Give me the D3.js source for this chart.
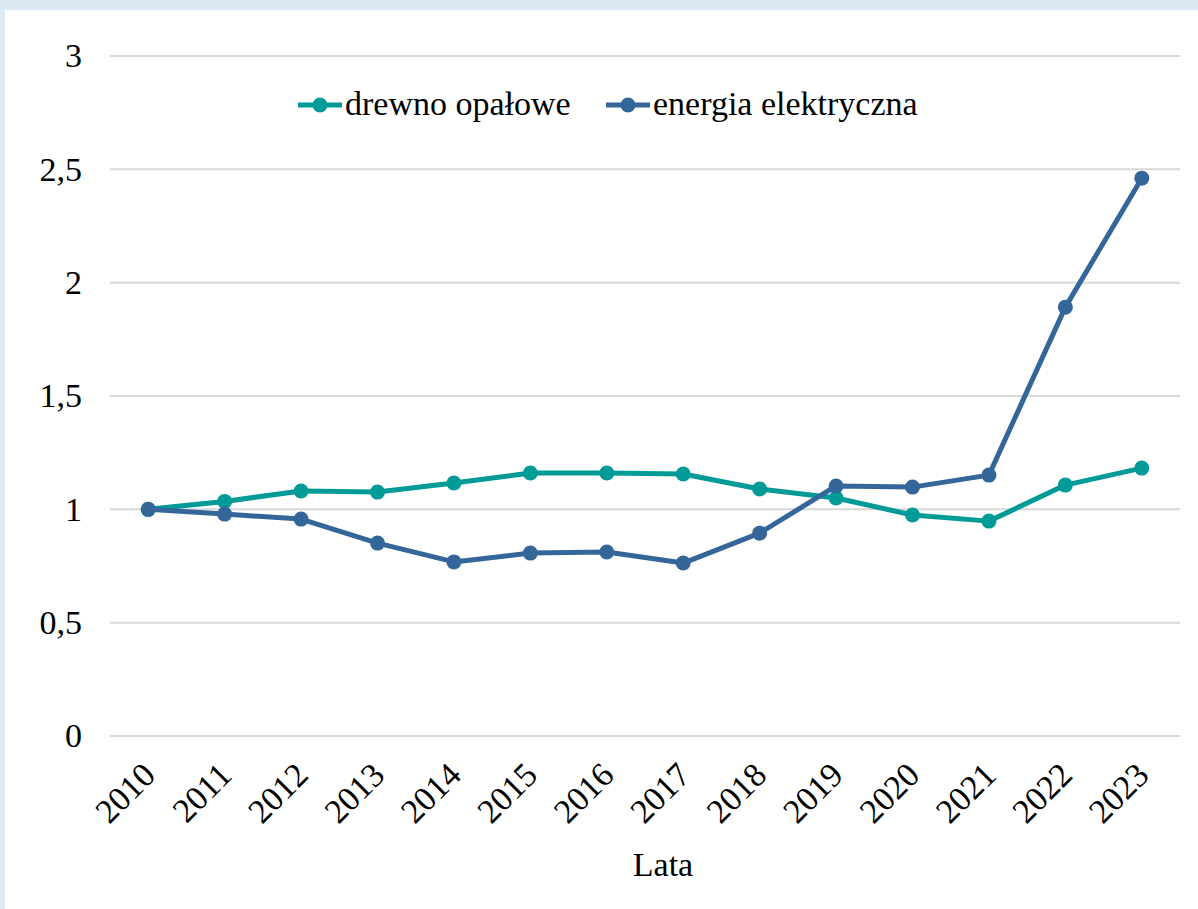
<!DOCTYPE html>
<html>
<head>
<meta charset="utf-8">
<script src="https://cdn.jsdelivr.net/npm/d3@7"></script>
<style>
  html, body { margin: 0; padding: 0; background: #dce8f4; }
  svg { display: block; }
  svg text { font-family: "Liberation Serif", "Times New Roman", "DejaVu Serif", serif; }
</style>
</head>
<body>
<svg id="chart"></svg>
<script>
const years = ["2010","2011","2012","2013","2014","2015","2016","2017","2018","2019","2020","2021","2022","2023"];
const drewno = [1.0, 1.035, 1.081, 1.076, 1.116, 1.160, 1.160, 1.156, 1.090, 1.050, 0.975, 0.948, 1.107, 1.182];
const energia = [1.0, 0.979, 0.957, 0.851, 0.768, 0.807, 0.812, 0.763, 0.895, 1.103, 1.098, 1.151, 1.892, 2.461];
const yTicks = [0, 0.5, 1, 1.5, 2, 2.5, 3];
const seriesNames = ["drewno opałowe", "energia elektryczna"];
const seriesColors = ["#009a97", "#35669a"];

const width = 1198, height = 909;
const margin = {top: 56, right: 18, bottom: 173, left: 110};
const fontSize = "34px";

const svg = d3.select("#chart")
  .attr("width", width)
  .attr("height", height);

// white panel over light blue background
svg.append("rect")
  .attr("x", 5).attr("y", 10)
  .attr("width", width - 5).attr("height", height - 10)
  .attr("fill", "#ffffff");

const x = d3.scaleBand()
  .domain(years)
  .range([margin.left, width - margin.right]);

const y = d3.scaleLinear()
  .domain([0, 3])
  .range([height - margin.bottom, margin.top]);

// gridlines
svg.append("g")
  .selectAll("line")
  .data(yTicks)
  .enter()
  .append("line")
  .attr("x1", margin.left)
  .attr("x2", width - margin.right)
  .attr("y1", d => y(d))
  .attr("y2", d => y(d))
  .attr("stroke", "#d9d9d9")
  .attr("stroke-width", 2);

// y axis labels
const yAxis = d3.axisLeft(y)
  .tickValues(yTicks)
  .tickSize(0)
  .tickPadding(28)
  .tickFormat(d => String(d).replace(".", ","));

svg.append("g")
  .attr("transform", "translate(" + margin.left + ",0)")
  .call(yAxis)
  .attr("font-family", null)
  .call(g => g.select(".domain").remove())
  .selectAll("text")
  .style("font-size", fontSize)
  .attr("fill", "#000");

// x axis labels
const xAxis = d3.axisBottom(x).tickSize(0).tickPadding(0);
svg.append("g")
  .attr("transform", "translate(0," + (height - margin.bottom) + ")")
  .call(xAxis)
  .attr("font-family", null)
  .call(g => g.select(".domain").remove())
  .selectAll("text")
  .style("font-size", fontSize)
  .attr("fill", "#000")
  .attr("text-anchor", "end")
  .attr("dy", "0")
  .attr("y", 0)
  .attr("transform", "translate(9,41) rotate(-45)");

// axis title
svg.append("text")
  .attr("x", 663)
  .attr("y", 876)
  .attr("text-anchor", "middle")
  .style("font-size", fontSize)
  .text("Lata");

// lines
const line = d3.line()
  .x((d, i) => x(years[i]) + x.bandwidth() / 2)
  .y(d => y(d));

[drewno, energia].forEach((data, k) => {
  svg.append("path")
    .datum(data)
    .attr("d", line)
    .attr("fill", "none")
    .attr("stroke", seriesColors[k])
    .attr("stroke-width", 5)
    .attr("stroke-linejoin", "round");

  svg.append("g")
    .selectAll("circle")
    .data(data)
    .enter()
    .append("circle")
    .attr("cx", (d, i) => x(years[i]) + x.bandwidth() / 2)
    .attr("cy", d => y(d))
    .attr("r", 7.5)
    .attr("fill", seriesColors[k]);
});

// legend
const legendX = [298, 606];
const legend = svg.append("g");
seriesNames.forEach((name, k) => {
  const g = legend.append("g").attr("transform", "translate(" + legendX[k] + ",105)");
  g.append("line")
    .attr("x1", 0).attr("x2", 44)
    .attr("stroke", seriesColors[k])
    .attr("stroke-width", 5);
  g.append("circle")
    .attr("cx", 22).attr("r", 7.5)
    .attr("fill", seriesColors[k]);
  g.append("text")
    .attr("x", 47)
    .attr("y", 10)
    .style("font-size", fontSize)
    .text(name);
});
</script>
</body>
</html>
